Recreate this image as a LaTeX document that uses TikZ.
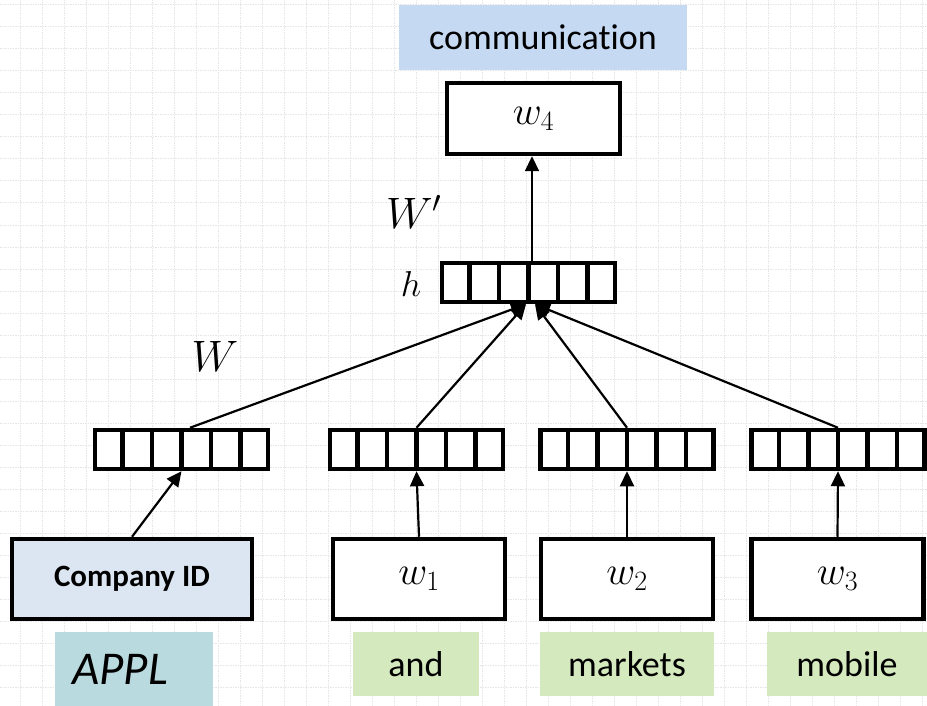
\RequirePackage{fix-cm}
\documentclass[tikz,border=0pt]{standalone}
\usepackage{fontspec}
\newfontfamily\calibri[Ligatures=NoCommon]{Carlito}
\usetikzlibrary{arrows.meta,calc}

\definecolor{gridgray}{HTML}{E6E6E6}
\definecolor{wordblue}{HTML}{C5D9F3}
\definecolor{idblue}{HTML}{DCE6F2}
\definecolor{tealbox}{HTML}{B9DADE}
\definecolor{wordgreen}{HTML}{D4E9BD}

\tikzset{
  gridline/.style={gridgray, line width=1pt, dash pattern=on 1.5pt off 1pt},
  wordbox/.style={draw, line width=4.5pt, fill=white, inner sep=0pt,
                  minimum width=172pt, minimum height=80pt,
                  font=\fontsize{40}{46}\selectfont},
  vecbox/.style={draw, line width=4.5pt, fill=white, inner sep=0pt,
                 minimum width=173pt, minimum height=39pt},
  tag/.style={inner sep=0pt, font=\calibri\fontsize{36}{40}\selectfont},
  conn/.style={line width=2.2pt, -{Triangle[length=15pt,width=14pt]}},
  wlabel/.style={inner sep=0pt}
}

\begin{document}
\begin{tikzpicture}[x=1pt,y=-1pt]
\useasboundingbox (0,0) rectangle (927,706);
\clip (0,0) rectangle (927,706);
\fill[white] (0,0) rectangle (927,706);

% dotted background grid
\foreach \x in {20,42,...,927} \draw[gridline] (\x,0) -- (\x,706);
\foreach \y in {5,27,...,706} \draw[gridline] (0,\y) -- (927,\y);

% output word
\node[tag, fill=wordblue, minimum width=288pt, minimum height=65pt] (comm) at (543,37.5) {communication};
\node[wordbox, minimum width=173pt, minimum height=71pt] (w4) at (533.5,118.5) {$w_4$};

% hidden layer
\node[vecbox] (h) at (528.5,282.5) {};
\node[wlabel, font=\fontsize{36}{42}\selectfont] (hlab) at (411,284) {$h$};
\node[wlabel, font=\fontsize{44}{50}\selectfont] (Wp) at (414,212) {$W'$};
\node[wlabel, font=\fontsize{44}{50}\selectfont] (W) at (215,356) {$W$};

% input embeddings
\node[vecbox] (v1) at (181.5,449.5) {};
\node[vecbox] (v2) at (416.5,449.5) {};
\node[vecbox] (v3) at (627,449.5) {};
\node[vecbox] (v4) at (838,449.5) {};

% cell dividers of every vector
\foreach \v in {h,v1,v2,v3,v4}
  \foreach \i in {1,...,5}
    \draw[line width=4.5pt] ($(\v.north west)!\i/6!(\v.north east)$) -- ($(\v.south west)!\i/6!(\v.south east)$);

% input words
\node[wordbox, fill=idblue, minimum width=240pt, font=\calibri\bfseries\fontsize{31}{36}\selectfont] (cid) at (132,579) {Company ID};
\node[wordbox] (w1) at (419,579) {$w_1$};
\node[wordbox] (w2) at (627,579) {$w_2$};
\node[wordbox] (w3) at (837.5,579) {$w_3$};

% word tags
\node[fill=tealbox, minimum width=158pt, minimum height=74pt, inner sep=0pt] (applbg) at (134,669) {};
\node[wlabel, anchor=west, font=\calibri\itshape\fontsize{47}{52}\selectfont] (appl) at (72,669) {APPL};
\node[tag, fill=wordgreen, minimum width=126pt, minimum height=64pt] (and) at (416,664) {and};
\node[tag, fill=wordgreen, minimum width=174pt, minimum height=64pt] (mk) at (627,664) {markets};
\node[tag, fill=wordgreen, minimum width=160pt, minimum height=64pt] (mob) at (847,664) {mobile};

% connectors
\coordinate (hl) at ([xshift=-2.5pt]h.south);
\coordinate (hr) at ([xshift=6.5pt]h.south);

\draw[conn] (cid.north) -- (v1.south);
\draw[conn] (w1.north) -- (v2.south);
\draw[conn] (w2.north) -- (v3.south);
\draw[conn] (w3.north) -- (v4.south);

\draw[conn] ([xshift=8.5pt]v1.north) -- (hl);
\draw[conn] (v2.north) -- (hl);
\draw[conn] (v3.north) -- (hr);
\draw[conn] (v4.north) -- (hr);

\draw[conn] ([xshift=-1.5pt]w4.south |- h.north) -- ([xshift=-1.5pt]w4.south);
\end{tikzpicture}
\end{document}
